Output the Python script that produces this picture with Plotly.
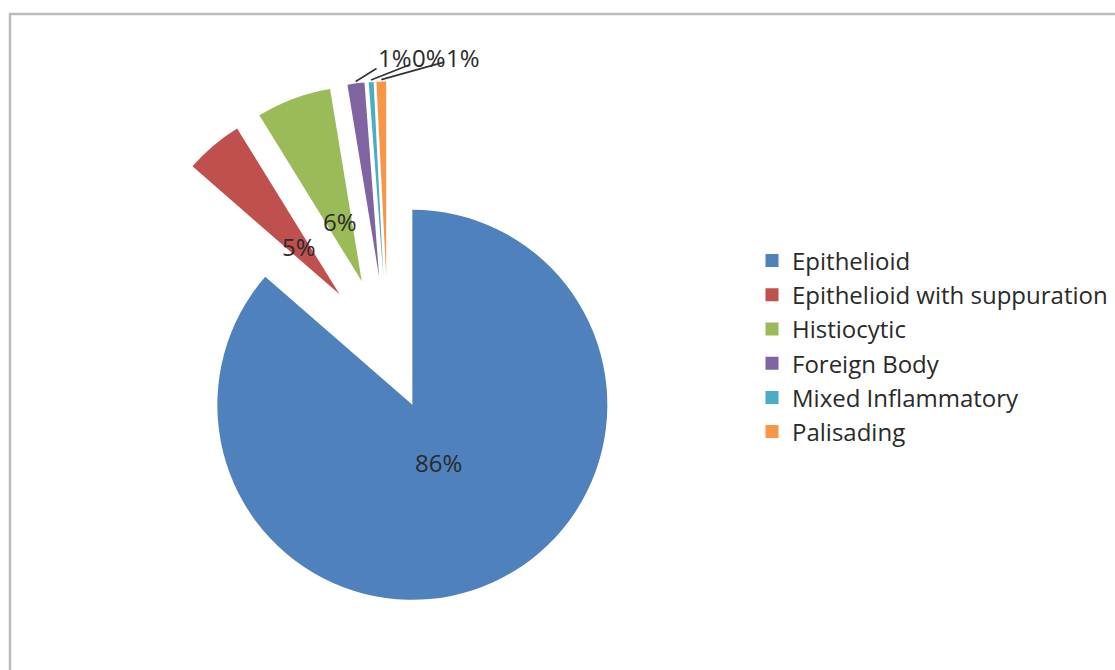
import math
import plotly.graph_objects as go

# ---- data ----
categories = ["Epithelioid", "Epithelioid with suppuration", "Histiocytic",
              "Foreign Body", "Mixed Inflammatory", "Palisading"]
values = [86.4, 4.8, 6.2, 1.4, 0.4, 0.8]

# ---- style ----
colors = ["#4f81bd", "#c0504d", "#9bbb59", "#8064a2", "#4bacc6", "#f79646"]
PULL = [0.30, 0.385, 0.385, 0.385, 0.385, 0.385]  # fraction of radius
W, H = 1115, 670
CX, CY, R = 388.1, 351.6, 195.0                   # pie centre / radius in px
FONT = "Open Sans"
TXT = "#2a2a2a"
INSIDE_R = 0.325                                  # inside label distance (fraction of R)
ROW_Y = 57                                        # row of the small leader-line labels
ROW_X0 = 395.0
ROW_STEP = 33.8

half = R * (1 + max(PULL))
fig = go.Figure(go.Pie(
    labels=categories, values=values, sort=False, direction="clockwise",
    rotation=0, pull=PULL,
    marker=dict(colors=colors, line=dict(width=0)),
    textinfo="none", showlegend=False, hoverinfo="label+percent",
    domain=dict(x=[(CX - half) / W, (CX + half) / W],
                y=[(H - CY - half) / H, (H - CY + half) / H]),
))

# percentage labels placed from the same pie geometry
total = sum(values)
annotations = []
start = 0.0
small_k = 0
for i, v in enumerate(values):
    span = v / total * 360.0
    mid = math.radians(start + span / 2.0)          # clockwise from 12 o'clock
    start += span
    d = PULL[i] * R
    sx = CX + d * math.sin(mid)
    sy = CY - d * math.cos(mid)
    pct = f"{v / total:.0%}"
    if v / total >= 0.03:
        tx = sx + INSIDE_R * R * math.sin(mid)
        ty = sy - INSIDE_R * R * math.cos(mid)
        annotations.append(dict(
            x=tx / W, y=1 - ty / H, xref="paper", yref="paper", text=pct,
            xanchor="center", yanchor="middle",
            showarrow=False, font=dict(family=FONT, size=24, color=TXT)))
    else:
        tipx = sx + (R + 2) * math.sin(mid)
        tipy = sy - (R + 2) * math.cos(mid)
        lx = ROW_X0 + small_k * ROW_STEP
        small_k += 1
        annotations.append(dict(
            x=tipx / W, y=1 - tipy / H, xref="paper", yref="paper", text=pct,
            showarrow=True, arrowhead=0, arrowwidth=1.6, arrowcolor="#333333",
            ax=lx - tipx, ay=ROW_Y - tipy, axref="pixel", ayref="pixel",
            standoff=0, font=dict(family=FONT, size=24, color=TXT)))

# legend entries
for cat, c in zip(categories, colors):
    fig.add_trace(go.Scatter(x=[None], y=[None], mode="markers", name=cat,
                             marker=dict(symbol="square", size=13, color=c),
                             hoverinfo="skip"))

fig.update_layout(
    width=W, height=H,
    margin=dict(l=0, r=0, t=0, b=0),
    paper_bgcolor="white", plot_bgcolor="white",
    xaxis=dict(visible=False), yaxis=dict(visible=False),
    annotations=annotations,
    legend=dict(x=752 / W, xanchor="left", y=1 - 346.5 / H, yanchor="middle",
                font=dict(family=FONT, size=24, color=TXT),
                bgcolor="rgba(0,0,0,0)", itemclick=False),
    shapes=[dict(type="rect", xref="paper", yref="paper",
                 x0=10 / W, x1=1.05, y0=-0.05, y1=1 - 14 / H,
                 line=dict(color="#bcbcbc", width=2.5), layer="below")],
)

fig.write_html("out.html")
